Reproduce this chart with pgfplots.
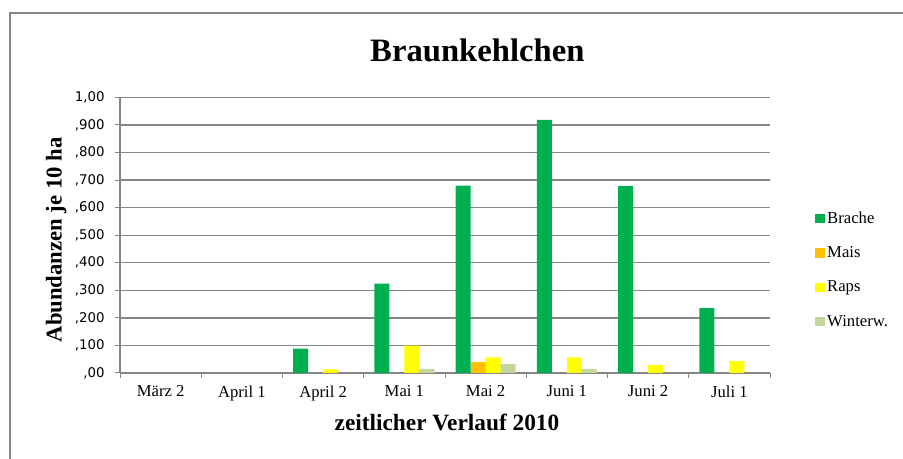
\documentclass[border=0pt]{standalone}
\usepackage{pgfplots}
\pgfplotsset{compat=1.18}
\usepackage{fontspec}
\setmainfont{Liberation Serif}
\newfontfamily\tickfont{DejaVu Sans}
\definecolor{brache}{HTML}{00B050}
\definecolor{mais}{HTML}{FFC000}
\definecolor{raps}{HTML}{FFFF00}
\definecolor{winterw}{HTML}{C3D69B}
\definecolor{gridc}{RGB}{134,134,134}
\begin{document}
\begin{tikzpicture}
\useasboundingbox (0pt,0pt) rectangle (677.25pt,344.25pt);
\draw[color=gridc, line width=1.5pt] (7.5pt,0pt) -- (7.5pt,334.5pt) -- (677.25pt,334.5pt);
\node[font=\bfseries\fontsize{24.5}{28}\selectfont] at (358pt,306.75pt) {Braunkehlchen};
\begin{axis}[
  at={(90pt,64.5pt)}, anchor=south west,
  scale only axis, width=487.5pt, height=206.7pt,
  xmin=-0.5, xmax=7.5, ymin=0, ymax=1.0,
  ybar=0pt, bar width=11.25pt,
  axis x line*=bottom, axis y line*=left,
  axis line style={color=gridc, line width=1pt},
  xtick={-0.5,0.5,1.5,2.5,3.5,4.5,5.5,6.5,7.5},
  xticklabels={},
  extra x ticks={0,1,2,3,4,5,6,7},
  extra x tick labels={März 2,April 1,April 2,Mai 1,Mai 2,Juni 1,Juni 2,Juli 1},
  extra x tick style={major tick length=0pt, grid=none,
    tick label style={font=\fontsize{12.5}{14}\selectfont, yshift=-6pt}},
  major tick length=4pt,
  tick align=outside,
  tick style={color=gridc, line width=0.75pt},
  ytick={0,0.1,...,1.0},
  yticklabels={{,00},{,100},{,200},{,300},{,400},{,500},{,600},{,700},{,800},{,900},{1,00}},
  y tick label style={font=\tickfont\fontsize{10}{11}\selectfont, xshift=-4pt},
  ymajorgrids, grid style={color=gridc, line width=1pt},
  xlabel={zeitlicher Verlauf 2010},
  ylabel={Abundanzen je 10 ha},
  xlabel style={font=\bfseries\fontsize{17.5}{20}\selectfont, at={(rel axis cs:0.503,-0.181)}, anchor=center},
  ylabel style={font=\bfseries\fontsize{17}{20}\selectfont, at={(rel axis cs:-0.098,0.483)}, anchor=center},
  legend style={at={(rel axis cs:1.063,0.606)}, anchor=north west, draw=none, fill=none,
    font=\fontsize{12.5}{14}\selectfont, row sep=12pt, cells={anchor=west}},
  legend image code/.code={\fill[#1] (0pt,-3.5pt) rectangle (7pt,3.5pt);},
]
\addplot[fill=brache, draw=none] coordinates {(2,0.088) (3,0.324) (4,0.680) (5,0.918) (6,0.678) (7,0.235)};
\addplot[fill=mais, draw=none] coordinates {(4,0.041)};
\addplot[fill=raps, draw=none] coordinates {(2,0.013) (3,0.099) (4,0.057) (5,0.057) (6,0.029) (7,0.043)};
\addplot[fill=winterw, draw=none] coordinates {(3,0.015) (4,0.032) (5,0.015)};
\legend{Brache,Mais,Raps,Winterw.}
\end{axis}
\end{tikzpicture}
\end{document}
